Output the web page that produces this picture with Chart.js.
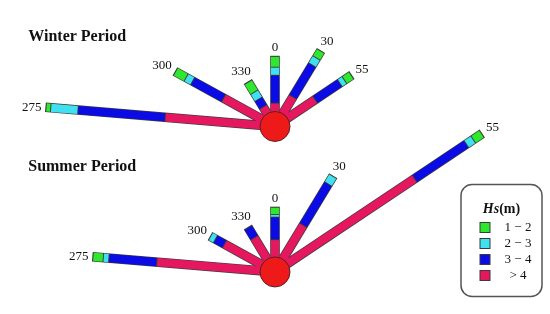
<!DOCTYPE html>
<html><head><meta charset="utf-8">
<script src="https://cdn.jsdelivr.net/npm/chart.js@4/dist/chart.umd.min.js"></script>
<style>html,body{margin:0;padding:0;background:#fff}#wrap{width:550px;height:314px;position:relative}</style>
</head><body><div id="wrap"><canvas id="c"></canvas></div>
<script>
// ---- data (bar lengths per Hs class, same length unit for both periods) ----
const directions = [0, 30, 55, 275, 300, 330];
const directionLabels = ['0', '30', '55', '275', '300', '330'];
const classLabels = ['1 \u2212 2', '2 \u2212 3', '3 \u2212 4', '> 4'];
const winterHs12  = [12, 9, 9, 5, 13, 13];
const winterHs23  = [9, 9, 6, 29, 8, 9];
const winterHs34  = [31, 41, 32, 93, 38, 10];
const winterHsGt4 = [26, 38, 52, 117, 63, 25];
const summerHs12  = [8, 0, 11, 11, 0, 0];
const summerHs23  = [3, 10, 9, 6, 6, 0];
const summerHs34  = [25, 53, 67, 51, 11, 13];
const summerHsGt4 = [36, 60, 181, 126, 62, 44];

// ---- layout / style ----
const classColors = ['#2ee82e', '#3fe0f0', '#0b0be6', '#e5175f']; // 1-2, 2-3, 3-4, >4
const roses = [
  { title: 'Winter Period', center: [275, 123], titlePos: [13, 28],
    classes: [winterHs12, winterHs23, winterHs34, winterHsGt4] },
  { title: 'Summer Period', center: [275, 285], titlePos: [13, 173],
    classes: [summerHs12, summerHs23, summerHs34, summerHsGt4] }
];
const BAR_W = 8.2;
const OUTLINE = '#3a3a3a';

function pt(c, ang, r) {
  const a = ang * Math.PI / 180;
  return { x: c[0] + r * Math.sin(a), y: c[1] - r * Math.cos(a) };
}

const datasets = [];
roses.forEach(rose => {
  directions.forEach((ang, i) => {
    // stack from centre outward: >4, 3-4, 2-3, 1-2
    const order = [3, 2, 1, 0];
    let total = 0;
    order.forEach(k => total += rose.classes[k][i]);
    datasets.push({
      data: [pt(rose.center, ang, 0), pt(rose.center, ang, total + 0.7)],
      showLine: true, borderColor: OUTLINE, borderWidth: BAR_W + 1.4,
      borderCapStyle: 'butt', pointRadius: 0, order: 3
    });
    let start = 0;
    order.forEach(k => {
      const v = rose.classes[k][i];
      if (v > 0) {
        datasets.push({
          data: [pt(rose.center, ang, start + (start > 0 ? 0.5 : 0)), pt(rose.center, ang, start + v - 0.5)],
          showLine: true, borderColor: classColors[k], borderWidth: BAR_W,
          borderCapStyle: 'butt', pointRadius: 0, order: 2
        });
      }
      start += v;
    });
  });
  datasets.push({
    data: [{ x: rose.center[0], y: rose.center[1] }],
    showLine: false, pointRadius: 15, pointBackgroundColor: '#ee1a1a',
    pointBorderColor: '#5a2020', pointBorderWidth: 1, order: 1
  });
});

const textPlugin = {
  id: 'roseText',
  afterDraw(chart) {
    const ctx = chart.ctx;
    const xs = chart.scales.x, ys = chart.scales.y;
    const P = p => ({ x: xs.getPixelForValue(p.x), y: ys.getPixelForValue(p.y) });
    ctx.save();
    ctx.fillStyle = '#111';
    roses.forEach(rose => {
      // title
      ctx.font = 'bold 16px "Liberation Serif", "Times New Roman", serif';
      ctx.textAlign = 'left'; ctx.textBaseline = 'alphabetic';
      const tp = P({ x: rose.titlePos[0], y: rose.titlePos[1] });
      ctx.fillText(rose.title, tp.x, tp.y);
      // direction labels
      ctx.font = '13px "Liberation Serif", "Times New Roman", serif';
      ctx.textAlign = 'center'; ctx.textBaseline = 'middle';
      directions.forEach((ang, i) => {
        let total = 0;
        rose.classes.forEach(arr => total += arr[i]);
        const w = ctx.measureText(directionLabels[i]).width;
        const a = ang * Math.PI / 180;
        const off = 5 + Math.abs(Math.sin(a)) * w / 2 + Math.abs(Math.cos(a)) * 6;
        const p = P(pt(rose.center, ang, total + off));
        ctx.fillText(directionLabels[i], p.x, p.y + 1);
      });
    });
    // legend box
    const bx = 461, by = 184.5, bw = 81, bh = 112, rad = 11;
    ctx.beginPath();
    ctx.moveTo(bx + rad, by);
    ctx.lineTo(bx + bw - rad, by);
    ctx.arcTo(bx + bw, by, bx + bw, by + rad, rad);
    ctx.lineTo(bx + bw, by + bh - rad);
    ctx.arcTo(bx + bw, by + bh, bx + bw - rad, by + bh, rad);
    ctx.lineTo(bx + rad, by + bh);
    ctx.arcTo(bx, by + bh, bx, by + bh - rad, rad);
    ctx.lineTo(bx, by + rad);
    ctx.arcTo(bx, by, bx + rad, by, rad);
    ctx.closePath();
    ctx.fillStyle = '#fff'; ctx.fill();
    ctx.strokeStyle = '#555'; ctx.lineWidth = 1.5; ctx.stroke();
    // legend title Hs(m)
    ctx.fillStyle = '#111';
    ctx.textBaseline = 'alphabetic'; ctx.textAlign = 'left';
    const f1 = 'italic bold 14px "Liberation Serif", "Times New Roman", serif';
    const f2 = 'bold 14px "Liberation Serif", "Times New Roman", serif';
    ctx.font = f1; const w1 = ctx.measureText('Hs').width;
    ctx.font = f2; const w2 = ctx.measureText('(m)').width;
    const sx = 501.5 - (w1 + w2) / 2;
    ctx.font = f1; ctx.fillText('Hs', sx, 213);
    ctx.font = f2; ctx.fillText('(m)', sx + w1, 213);
    // legend items
    ctx.font = '13px "Liberation Serif", "Times New Roman", serif';
    ctx.textAlign = 'center'; ctx.textBaseline = 'middle';
    classLabels.forEach((lab, k) => {
      const y = 222.5 + k * 16;
      ctx.fillStyle = classColors[k];
      ctx.fillRect(480, y, 10, 10);
      ctx.strokeStyle = OUTLINE; ctx.lineWidth = 1;
      ctx.strokeRect(480, y, 10, 10);
      ctx.fillStyle = '#111';
      ctx.fillText(lab, 518, y + 5.5);
    });
    ctx.restore();
  }
};

new Chart(document.getElementById('c'), {
  type: 'scatter',
  data: { datasets },
  options: {
    responsive: true, maintainAspectRatio: false, animation: false, events: [],
    layout: { padding: 0 },
    scales: {
      x: { type: 'linear', min: 0, max: 550, display: false },
      y: { type: 'linear', min: 0, max: 314, reverse: true, display: false }
    },
    plugins: { legend: { display: false }, tooltip: { enabled: false }, title: { display: false } }
  },
  plugins: [textPlugin]
});
</script></body></html>
